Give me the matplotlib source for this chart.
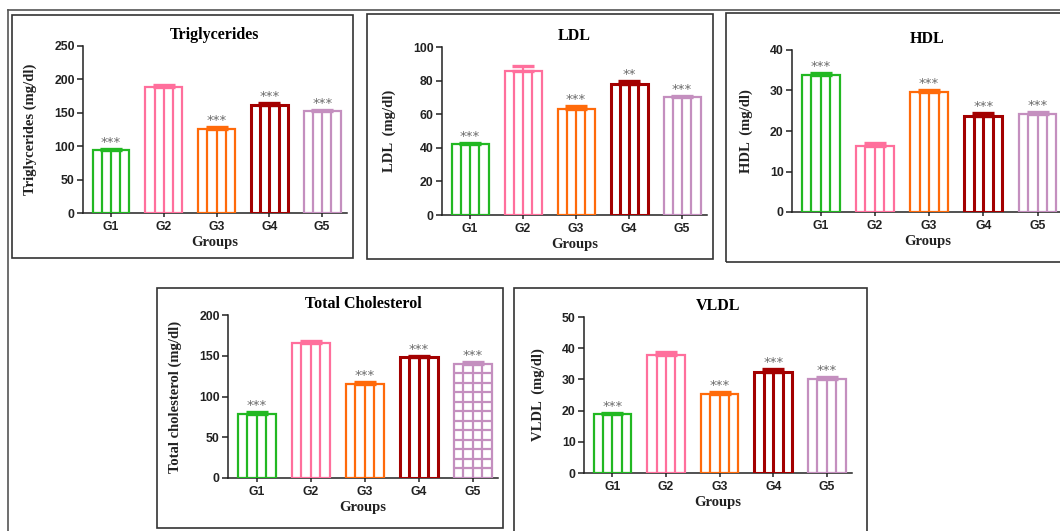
import numpy as np
import matplotlib
matplotlib.use("Agg")
import matplotlib.pyplot as plt
from matplotlib.patches import Rectangle
from matplotlib.lines import Line2D

# data (mean, upper error, significance marks)
groups = ["G1", "G2", "G3", "G4", "G5"]
bar_colors = ["#22b822", "#ff6f9c", "#ff6a0a", "#a30000", "#c48fbf"]

tg_mean = [95, 189, 126, 162, 152]
tg_err = [1, 3, 3, 3, 2]
tg_stars = ["***", "", "***", "***", "***"]

ldl_mean = [42, 86, 63, 78, 70]
ldl_err = [1, 2.5, 2, 1.5, 1]
ldl_stars = ["***", "", "***", "**", "***"]

hdl_mean = [33.8, 16.4, 29.6, 23.6, 24.2]
hdl_err = [0.6, 0.6, 0.5, 0.9, 0.4]
hdl_stars = ["***", "", "***", "***", "***"]

tc_mean = [79, 166, 115, 148, 140]
tc_err = [1.5, 2.5, 2.5, 2, 2]
tc_stars = ["***", "", "***", "***", "***"]

vldl_mean = [18.8, 37.9, 25.4, 32.5, 30.2]
vldl_err = [0.5, 0.8, 0.6, 0.9, 0.6]
vldl_stars = ["***", "", "***", "***", "***"]

SERIF = "Liberation Serif"
SANS = "Liberation Sans"
BAR_W = 0.7


def draw_panel(ax, means, errs, stars, title, ylabel, ymax, ystep, grid_last=False):
    x = np.arange(len(groups))
    for i, (m, e, c) in enumerate(zip(means, errs, bar_colors)):
        lw = 2.2 if i == 3 else 1.6
        ax.bar(x[i], m, width=BAR_W, fill=False, edgecolor=c, linewidth=lw, zorder=3)
        # vertical stripes inside the bar
        xs = [x[i] + BAR_W * (k / 4 - 0.5) for k in (1, 2, 3)]
        ax.vlines(xs, 0, m, color=c, linewidth=lw, zorder=3)
        if grid_last and i == len(groups) - 1:
            ys = np.linspace(0, m, 13)[1:-1]
            ax.hlines(ys, x[i] - BAR_W / 2, x[i] + BAR_W / 2, color=c, linewidth=lw, zorder=3)
        ax.errorbar(x[i], m, yerr=[[0], [e]], fmt="none", ecolor=c, elinewidth=lw,
                    capsize=8, capthick=2.4, zorder=4)
        if stars[i]:
            ax.annotate(stars[i], (x[i], m + e), xytext=(0, 0), textcoords="offset points",
                        ha="center", va="bottom", fontsize=9.5, color="#6a6a6a",
                        family="DejaVu Sans")

    ax.set_xlim(-0.53, 4.47)
    ax.set_ylim(0, ymax)
    ax.set_yticks(np.arange(0, ymax + 1, ystep))
    ax.set_xticks(x)
    ax.set_xticklabels(groups)
    for s in ("top", "right"):
        ax.spines[s].set_visible(False)
    for s in ("left", "bottom"):
        ax.spines[s].set_linewidth(1.1)
        ax.spines[s].set_color("#222222")
    ax.tick_params(axis="y", length=4, width=1.1, colors="#222222", pad=2)
    ax.tick_params(axis="x", length=3, width=1.1, colors="#222222", pad=3)
    for lab in ax.get_xticklabels() + ax.get_yticklabels():
        lab.set_fontfamily(SANS)
        lab.set_fontweight("bold")
        lab.set_fontsize(8.8)
    ax.set_title(title, family=SERIF, fontweight="bold", fontsize=11.5, pad=5)
    ax.set_ylabel(ylabel, family=SERIF, fontweight="bold", fontsize=10.5, labelpad=12,
                  color="#222222")
    ax.set_xlabel("Groups", family=SERIF, fontweight="bold", fontsize=10.5, labelpad=2,
                  color="#222222")


fig = plt.figure(figsize=(10.6, 5.31), dpi=100)
W, H = 1060, 531


def px_axes(x0, x1, ytop, ybot):
    return fig.add_axes([x0 / W, 1 - ybot / H, (x1 - x0) / W, (ybot - ytop) / H])


def px_box(x0, x1, ytop, ybot):
    fig.patches.append(Rectangle((x0 / W, 1 - ybot / H), (x1 - x0) / W, (ybot - ytop) / H,
                                 transform=fig.transFigure, fill=False,
                                 edgecolor="#333333", linewidth=1.2))


# outer frame (top and left edges only are visible)
fig.lines.append(Line2D([8 / W, 1.0], [1 - 10 / H, 1 - 10 / H], transform=fig.transFigure,
                        color="#555555", linewidth=1.2))
fig.lines.append(Line2D([8 / W, 8 / W], [0, 1 - 10 / H], transform=fig.transFigure,
                        color="#555555", linewidth=1.2))

px_box(12, 353, 15, 258)
px_box(367, 713, 14, 259)
px_box(726, 1070, 13, 262)
px_box(157, 503, 288, 528)
px_box(514, 867, 288, 540)

ax1 = px_axes(83, 347, 46, 213)
draw_panel(ax1, tg_mean, tg_err, tg_stars, "Triglycerides", "Triglycerides (mg/dl)", 250, 50)

ax2 = px_axes(442, 707, 47, 215)
draw_panel(ax2, ldl_mean, ldl_err, ldl_stars, "LDL", "LDL  (mg/dl)", 100, 20)

ax3 = px_axes(792, 1063, 50, 212)
draw_panel(ax3, hdl_mean, hdl_err, hdl_stars, "HDL", "HDL  (mg/dl)", 40, 10)

ax4 = px_axes(228, 498, 315, 478)
draw_panel(ax4, tc_mean, tc_err, tc_stars, "Total Cholesterol", "Total cholesterol (mg/dl)",
           200, 50, grid_last=True)

ax5 = px_axes(584, 852, 317, 473)
draw_panel(ax5, vldl_mean, vldl_err, vldl_stars, "VLDL", "VLDL  (mg/dl)", 50, 10)

fig.savefig("out.png", dpi=100)
